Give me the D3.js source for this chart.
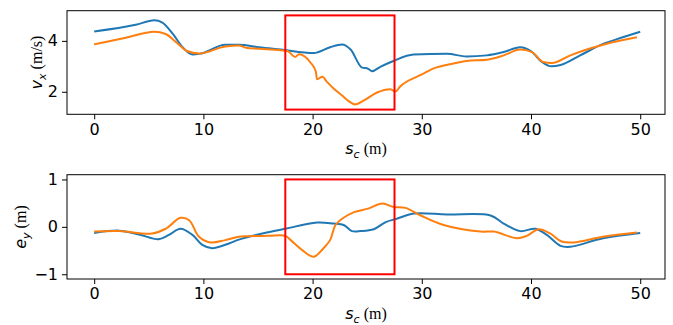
<!DOCTYPE html>
<html>
<head>
<meta charset="utf-8">
<script src="https://cdn.jsdelivr.net/npm/d3@7"></script>
<style>
  body { margin: 0; background: #fff; }
  svg { display: block; font-family: "DejaVu Sans", sans-serif; }
</style>
</head>
<body>
<div id="chart"></div>
<script>
// arc length s_c (m) and v_x (m/s), run 1 (blue) and run 2 (orange)
const sVx1 = [0, 3.8, 5.5, 6.25, 7.2, 8.1, 9.0, 9.75, 12.0, 13.25, 15.1, 17.07, 20.1, 21.6, 22.7, 23.5, 24.5, 25.1, 25.45, 26.2, 27.4, 29.25, 32.3, 34.1, 35.95, 37.5, 39.0, 40.1, 41.0, 41.9, 42.7, 44.5, 46.6, 48.4, 50.0];
const vx1  = [4.37, 4.63, 4.81, 4.72, 4.27, 3.75, 3.46, 3.5, 3.85, 3.85, 3.75, 3.66, 3.52, 3.75, 3.86, 3.65, 2.96, 2.9, 2.81, 2.98, 3.21, 3.46, 3.49, 3.39, 3.43, 3.56, 3.75, 3.56, 3.17, 3.0, 3.05, 3.43, 3.88, 4.14, 4.36];
const sVx2 = [0, 2.9, 5.5, 6.55, 7.5, 8.5, 9.6, 12.0, 13.25, 13.9, 15.1, 17.07, 17.7, 18.4, 18.75, 19.8, 20.3, 20.4, 20.9, 21.3, 21.9, 22.7, 23.3, 23.9, 24.7, 25.9, 27.1, 27.6, 28.0, 29.9, 31.1, 32.9, 34.1, 35.95, 37.5, 39.0, 40.1, 41.1, 41.9, 43.6, 45.1, 46.6, 49.7];
const vx2  = [3.86, 4.12, 4.36, 4.27, 3.95, 3.6, 3.5, 3.78, 3.82, 3.73, 3.69, 3.63, 3.6, 3.37, 3.47, 3.15, 2.79, 2.49, 2.59, 2.4, 2.14, 1.85, 1.63, 1.5, 1.66, 1.97, 2.1, 2.01, 2.2, 2.66, 2.92, 3.11, 3.21, 3.26, 3.43, 3.66, 3.56, 3.17, 3.13, 3.43, 3.66, 3.85, 4.14];

// lateral error e_y (m)
const sEy1 = [0, 2.3, 4.1, 5.9, 6.85, 7.9, 9.0, 9.9, 10.8, 12.35, 13.25, 15.4, 17.5, 20.4, 21.9, 22.85, 23.6, 24.4, 25.6, 26.7, 27.7, 29.25, 32.3, 36.3, 37.5, 39.0, 40.4, 41.45, 42.7, 43.6, 46.6, 50.0];
const ey1  = [-0.13, -0.08, -0.16, -0.26, -0.17, -0.04, -0.17, -0.38, -0.45, -0.35, -0.27, -0.14, -0.04, 0.09, 0.07, 0.04, -0.09, -0.09, -0.05, 0.1, 0.17, 0.28, 0.26, 0.24, 0.07, -0.09, -0.04, -0.17, -0.4, -0.42, -0.24, -0.13];
const sEy2 = [0, 2.3, 5.3, 6.55, 7.9, 8.7, 9.6, 10.65, 12.0, 13.25, 16.0, 17.5, 18.0, 19.05, 20.1, 21.0, 21.6, 22.1, 22.7, 23.8, 25.0, 26.4, 27.4, 28.5, 29.9, 32.0, 35.35, 36.6, 38.7, 39.6, 40.7, 41.75, 42.8, 43.9, 46.6, 49.7];
const ey2  = [-0.1, -0.09, -0.14, -0.04, 0.19, 0.14, -0.21, -0.33, -0.28, -0.21, -0.19, -0.19, -0.28, -0.49, -0.63, -0.45, -0.28, 0.04, 0.17, 0.31, 0.38, 0.49, 0.42, 0.4, 0.24, 0.04, -0.1, -0.1, -0.24, -0.19, -0.05, -0.14, -0.31, -0.33, -0.21, -0.12];

// highlighted window
const boxS = [17.5, 27.5];
const boxVx = [1.3, 5.0];
const boxEy = [-1, 1];

const xTicks = [0, 10, 20, 30, 40, 50];
const vxTicks = [2, 4];
const eyTicks = [-1, 0, 1];

const W = 673, H = 325;
const blue = '#1f77b4', orange = '#ff7f0e';

const svg = d3.select('#chart').append('svg')
  .attr('width', W).attr('height', H);

function panel(top, bottom, yDomain, yTicks, s1, v1, s2, v2, box, curve) {
  const x = d3.scaleLinear().domain([-2.49, 52.27]).range([67, 665]);
  const y = d3.scaleLinear().domain(yDomain).range([bottom, top]);
  const g = svg.append('g');

  g.append('g')
    .attr('transform', `translate(0,${bottom})`)
    .call(d3.axisBottom(x).tickValues(xTicks).tickSize(5).tickPadding(4).tickFormat(d3.format('d')))
    .call(a => a.select('.domain').remove())
    .call(a => a.selectAll('text').attr('font-size', 16).attr('font-family', 'DejaVu Sans').attr('fill', '#000'));

  g.append('g')
    .attr('transform', 'translate(67,0)')
    .call(d3.axisLeft(y).tickValues(yTicks).tickSize(5).tickPadding(4).tickFormat(d => d3.format('d')(d).replace('-', '\u2212')))
    .call(a => a.select('.domain').remove())
    .call(a => a.selectAll('text').attr('font-size', 16).attr('font-family', 'DejaVu Sans').attr('fill', '#000'));

  const line = d3.line().x(d => x(d[0])).y(d => y(d[1])).curve(curve);
  g.append('path').datum(d3.zip(s1, v1)).attr('d', line)
    .attr('fill', 'none').attr('stroke', blue).attr('stroke-width', 2);
  g.append('path').datum(d3.zip(s2, v2)).attr('d', line)
    .attr('fill', 'none').attr('stroke', orange).attr('stroke-width', 2);

  g.append('rect')
    .attr('x', x(boxS[0])).attr('y', y(box[1]))
    .attr('width', x(boxS[1]) - x(boxS[0])).attr('height', y(box[0]) - y(box[1]))
    .attr('fill', 'none').attr('stroke', '#ff0000').attr('stroke-width', 2);

  g.append('rect')
    .attr('x', 67).attr('y', top).attr('width', 665 - 67).attr('height', bottom - top)
    .attr('fill', 'none').attr('stroke', '#000').attr('stroke-width', 1);

  // x label: s_c (m)
  const xl = g.append('text')
    .attr('x', 366).attr('y', bottom + 40)
    .attr('text-anchor', 'middle').attr('font-size', 16);
  xl.append('tspan').attr('font-style', 'italic').text('s');
  xl.append('tspan').attr('font-style', 'italic').attr('font-size', 11).attr('dy', 4).text('c');
  xl.append('tspan').attr('dy', -4).attr('font-family', 'Liberation Serif').text(' (m)');
  return g;
}

const top1 = panel(10.7, 114.3, [1.115, 5.185], vxTicks, sVx1, vx1, sVx2, vx2, boxVx, d3.curveMonotoneX);
const top2 = panel(174.7, 279, [-1.1, 1.1], eyTicks, sEy1, ey1, sEy2, ey2, boxEy, d3.curveCatmullRom.alpha(0.5));

function yLabel(g, cx, cy, main, sub, unit) {
  const t = g.append('text')
    .attr('transform', `translate(${cx},${cy}) rotate(-90)`)
    .attr('text-anchor', 'middle').attr('font-size', 16);
  t.append('tspan').attr('font-style', 'italic').text(main);
  t.append('tspan').attr('font-style', 'italic').attr('font-size', 11).attr('dy', 4).text(sub);
  t.append('tspan').attr('dy', -4).attr('font-family', 'Liberation Serif').text(' ' + unit);
}
yLabel(top1, 42, 62.5, 'v', 'x', '(m/s)');
yLabel(top2, 26, 227, 'e', 'y', '(m)');
</script>
</body>
</html>
